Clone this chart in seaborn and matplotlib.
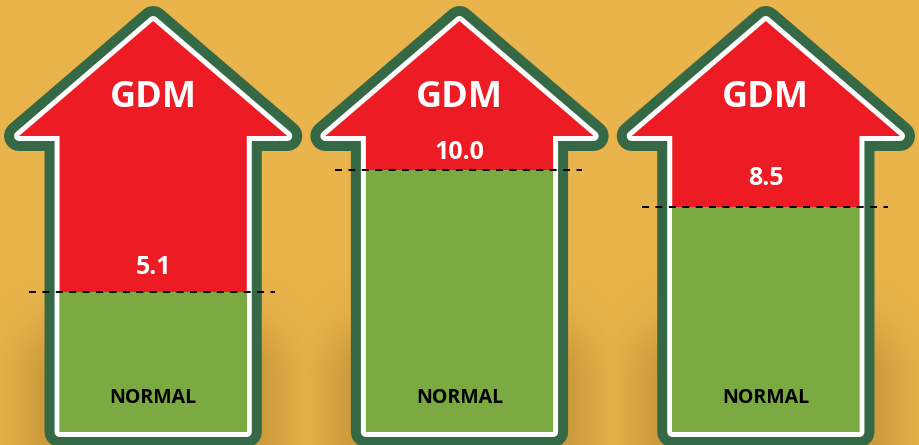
import matplotlib
matplotlib.use("Agg")
import matplotlib.pyplot as plt
from matplotlib.patches import Polygon
import numpy as np
import pandas as pd
import seaborn as sns

# cut-off values (shown above the dashed line of each arrow)
categories = ["fasting", "1 hour", "2 hours"]
values = [5.1, 10.0, 8.5]
value_labels = ["5.1", "10.0", "8.5"]
top_label = "GDM"
bottom_label = "NORMAL"

BG = "#E9B44B"
RED = "#ED1C24"
GREEN = "#7AAA41"
DARK = "#356845"

# pixel <-> data helpers (figure is 919x445, axes fill it)
XPX = 306.0     # px per category
YPX = 24.92     # px per unit
Y0 = 419.0      # pixel row of value 0


def ypix(p):
    return (Y0 - p) / YPX


df = pd.DataFrame({"cat": categories, "val": values})

sns.set_style("white")
fig = plt.figure(figsize=(9.19, 4.45), dpi=100)
fig.patch.set_facecolor(BG)
ax = fig.add_axes([0, 0, 1, 1])
ax.set_facecolor(BG)

shaft_half = 93.5 / XPX
head_half = 134 / XPX
tip_y = ypix(21)
base_y = ypix(136)
bottom_y = ypix(432)

# soft shadow behind the lower shafts (pixel grid)
gx, gy = np.meshgrid(np.arange(919), np.arange(445))
shade = np.zeros_like(gx, dtype=float)
for i in range(len(categories)):
    cx = 153 + i * XPX
    dx = np.maximum(np.abs(gx - cx) - 80, 0)
    dy = np.maximum(gy - 400, 0) * 0 + np.maximum(380 - gy, 0)
    shade = np.maximum(shade, np.exp(-(dx / 55.0) ** 2 - (dy / 60.0) ** 2))
rgba = np.zeros((445, 919, 4))
rgba[..., 0] = 0.45
rgba[..., 1] = 0.28
rgba[..., 2] = 0.05
rgba[..., 3] = 0.32 * shade
ax.imshow(rgba, extent=(-0.5, 2.5, ypix(445), ypix(0)), aspect="auto",
          interpolation="bilinear", zorder=0.5)

for i in range(len(categories)):
    pts = [(i - shaft_half, bottom_y), (i - shaft_half, base_y),
           (i - head_half, base_y), (i, tip_y), (i + head_half, base_y),
           (i + shaft_half, base_y), (i + shaft_half, bottom_y)]
    ax.add_patch(Polygon(pts, closed=True, fill=False, edgecolor=DARK,
                         lw=30 * 0.72, joinstyle="round", zorder=1))
    ax.add_patch(Polygon(pts, closed=True, fill=False, edgecolor="white",
                         lw=10 * 0.72, joinstyle="round", zorder=2))
    ax.add_patch(Polygon(pts, closed=True, facecolor=RED, lw=0, zorder=3))

sns.barplot(data=df, x="cat", y="val", color=GREEN, width=187 / XPX,
            saturation=1, linewidth=0, zorder=4, ax=ax)
for p in ax.patches:
    if p.get_zorder() == 4:
        top = p.get_height()
        p.set_y(bottom_y)
        p.set_height(top - bottom_y)

xs = range(len(values))
ax.hlines(values, [x - 124 / XPX for x in xs], [x + 122 / XPX for x in xs],
          colors="black", lw=1.4, linestyles=(0, (3.6, 3.3)), zorder=5)

label_gap_px = [24, 17, 29]
font = ["Open Sans", "DejaVu Sans"]
for i, v in enumerate(values):
    ax.text(i, ypix(98), top_label, color="white", fontsize=26,
            fontweight="bold", family=font, ha="center", va="center", zorder=6)
    ax.text(i, v + label_gap_px[i] / YPX, value_labels[i], color="white",
            fontsize=18, fontweight="bold", family=font, ha="center",
            va="center", zorder=6)
    ax.text(i, ypix(398), bottom_label, color="black", fontsize=14,
            fontweight="bold", family=font, ha="center", va="center", zorder=6)

ax.set_xlim(-0.5, 2.5)
ax.set_ylim(ypix(445), ypix(0))
ax.axis("off")

fig.savefig("out.png", dpi=100, facecolor=BG)
